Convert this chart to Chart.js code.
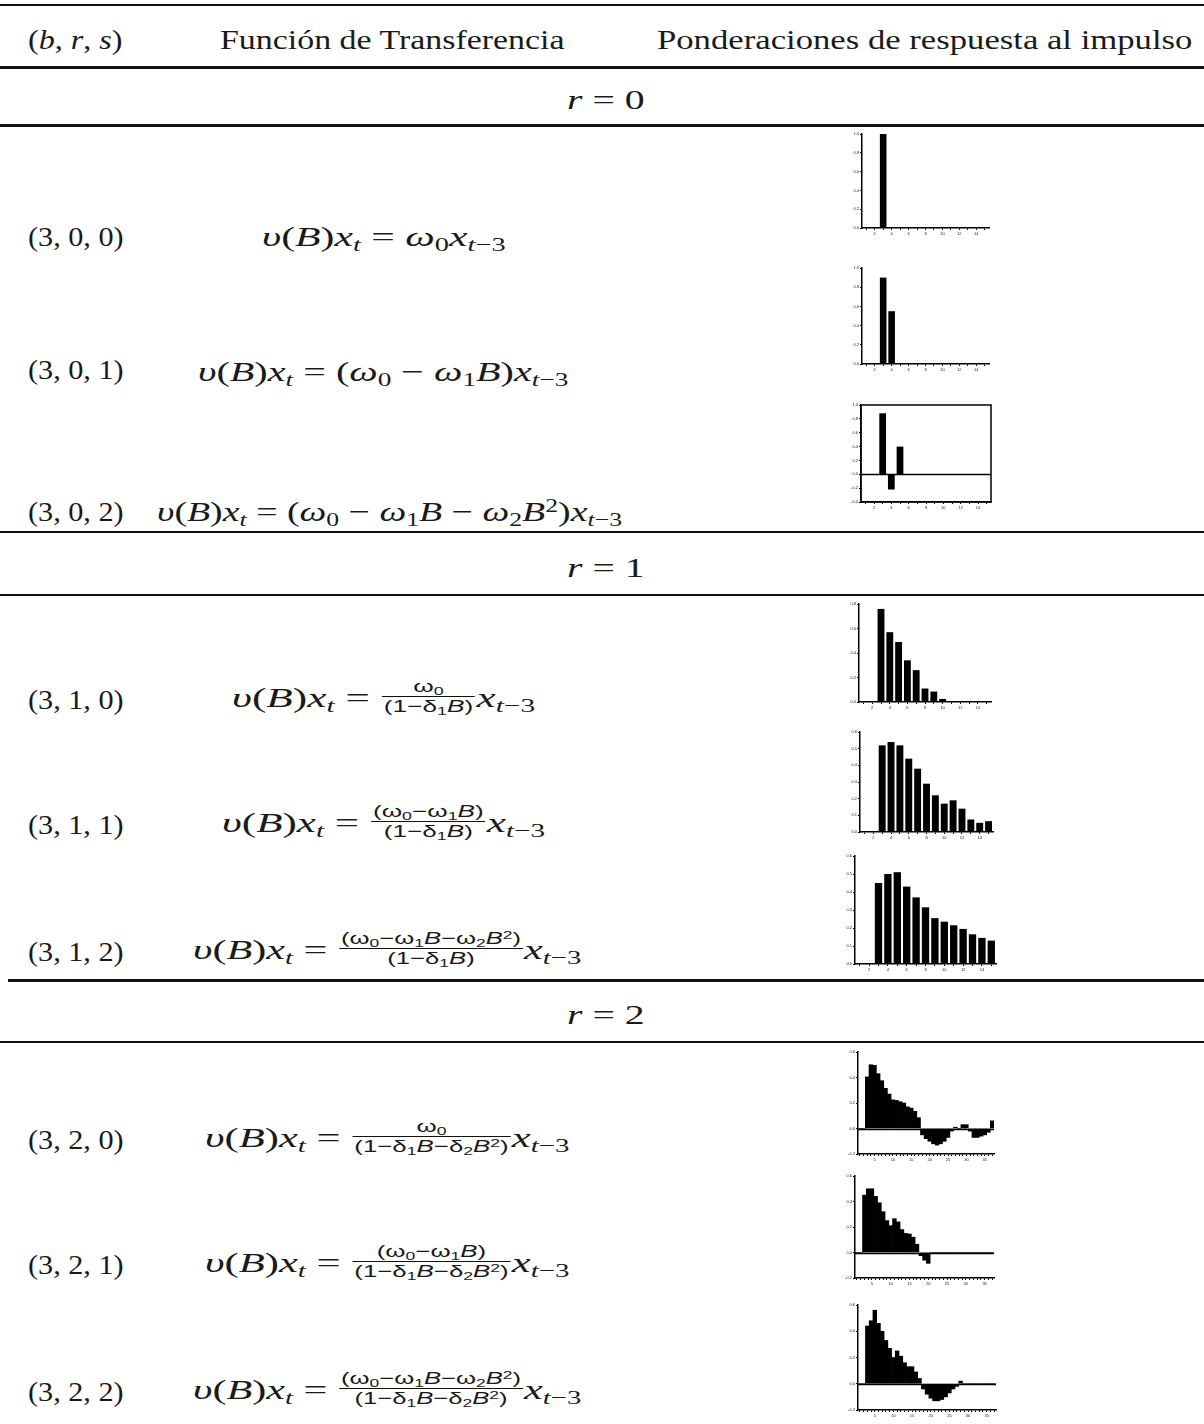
<!DOCTYPE html>
<html><head><meta charset="utf-8">
<script src="https://cdn.jsdelivr.net/npm/chart.js@4.4.1/dist/chart.umd.min.js"></script>
<style>
html,body{margin:0;padding:0;background:#fff;}
#page{position:relative;width:1204px;height:1424px;overflow:hidden;background:#fff;}
.t{position:absolute;white-space:nowrap;font-family:"Liberation Serif",serif;font-size:28px;color:#1a1a1a;transform-origin:0 50%;line-height:1;}
.t i{font-style:italic;}
.t sub{font-size:0.68em;vertical-align:-0.25em;line-height:0;}
.t sup{font-size:0.68em;vertical-align:0.45em;line-height:0;}
.fr{display:inline-block;vertical-align:middle;text-align:center;font-family:"Liberation Sans",sans-serif;font-size:17px;line-height:1.05;margin:0 1px;position:relative;top:-3px;}
.fr i{font-style:italic;}
.nu{display:block;border-bottom:1.6px solid #111;padding:0 1px 1px 1px;}
.de{display:block;padding:1px 1px 0 1px;}
.rule{position:absolute;background:#111;}
canvas.c{position:absolute;}
</style></head><body>
<div id="page">
  <div class="rule" style="left:0;top:4px;width:1204px;height:2px"></div>
  <div class="rule" style="left:0;top:66px;width:1204px;height:3px"></div>
  <div class="rule" style="left:0;top:124px;width:1204px;height:3px"></div>
  <div class="rule" style="left:0;top:531px;width:1204px;height:2px"></div>
  <div class="rule" style="left:0;top:594px;width:1204px;height:2px"></div>
  <div class="rule" style="left:8px;top:979px;width:1196px;height:3px"></div>
  <div class="rule" style="left:0;top:1041px;width:1204px;height:2px"></div>

  <div class="t" data-x="28" data-y="40" data-w="94">(<i>b</i>, <i>r</i>, <i>s</i>)</div>
  <div class="t" data-x="220" data-y="40" data-w="345">Función de Transferencia</div>
  <div class="t" data-x="657" data-y="40" data-w="535">Ponderaciones de respuesta al impulso</div>

  <div class="t" data-x="567" data-y="100" data-w="78"><i>r</i> = 0</div>
  <div class="t" data-x="567" data-y="568" data-w="78"><i>r</i> = 1</div>
  <div class="t" data-x="567" data-y="1015" data-w="78"><i>r</i> = 2</div>

  <div class="t" data-x="28" data-y="237" data-w="96">(3, 0, 0)</div>
  <div class="t" data-x="28" data-y="370" data-w="96">(3, 0, 1)</div>
  <div class="t" data-x="28" data-y="512" data-w="96">(3, 0, 2)</div>
  <div class="t" data-x="28" data-y="700" data-w="96">(3, 1, 0)</div>
  <div class="t" data-x="28" data-y="825" data-w="96">(3, 1, 1)</div>
  <div class="t" data-x="28" data-y="952" data-w="96">(3, 1, 2)</div>
  <div class="t" data-x="28" data-y="1140" data-w="96">(3, 2, 0)</div>
  <div class="t" data-x="28" data-y="1265" data-w="96">(3, 2, 1)</div>
  <div class="t" data-x="28" data-y="1392" data-w="96">(3, 2, 2)</div>

  <div class="t" data-x="262" data-y="237" data-w="243"><i>υ</i>(<i>B</i>)<i>x</i><sub><i>t</i></sub> = <i>ω</i><sub>0</sub><i>x</i><sub><i>t</i>−3</sub></div>
  <div class="t" data-x="198" data-y="372" data-w="370"><i>υ</i>(<i>B</i>)<i>x</i><sub><i>t</i></sub> = (<i>ω</i><sub>0</sub> − <i>ω</i><sub>1</sub><i>B</i>)<i>x</i><sub><i>t</i>−3</sub></div>
  <div class="t" data-x="157" data-y="512" data-w="465"><i>υ</i>(<i>B</i>)<i>x</i><sub><i>t</i></sub> = (<i>ω</i><sub>0</sub> − <i>ω</i><sub>1</sub><i>B</i> − <i>ω</i><sub>2</sub><i>B</i><sup>2</sup>)<i>x</i><sub><i>t</i>−3</sub></div>

  <div class="t" data-x="232" data-y="700" data-w="303"><i>υ</i>(<i>B</i>)<i>x</i><sub><i>t</i></sub> = <span class="fr"><span class="nu">ω<sub>0</sub></span><span class="de">(1−δ<sub>1</sub><i>B</i>)</span></span><i>x</i><sub><i>t</i>−3</sub></div>
  <div class="t" data-x="222" data-y="825" data-w="323"><i>υ</i>(<i>B</i>)<i>x</i><sub><i>t</i></sub> = <span class="fr"><span class="nu">(ω<sub>0</sub>−ω<sub>1</sub><i>B</i>)</span><span class="de">(1−δ<sub>1</sub><i>B</i>)</span></span><i>x</i><sub><i>t</i>−3</sub></div>
  <div class="t" data-x="193" data-y="952" data-w="389"><i>υ</i>(<i>B</i>)<i>x</i><sub><i>t</i></sub> = <span class="fr"><span class="nu">(ω<sub>0</sub>−ω<sub>1</sub><i>B</i>−ω<sub>2</sub><i>B</i><sup>2</sup>)</span><span class="de">(1−δ<sub>1</sub><i>B</i>)</span></span><i>x</i><sub><i>t</i>−3</sub></div>

  <div class="t" data-x="205" data-y="1140" data-w="365"><i>υ</i>(<i>B</i>)<i>x</i><sub><i>t</i></sub> = <span class="fr"><span class="nu">ω<sub>0</sub></span><span class="de">(1−δ<sub>1</sub><i>B</i>−δ<sub>2</sub><i>B</i><sup>2</sup>)</span></span><i>x</i><sub><i>t</i>−3</sub></div>
  <div class="t" data-x="205" data-y="1265" data-w="365"><i>υ</i>(<i>B</i>)<i>x</i><sub><i>t</i></sub> = <span class="fr"><span class="nu">(ω<sub>0</sub>−ω<sub>1</sub><i>B</i>)</span><span class="de">(1−δ<sub>1</sub><i>B</i>−δ<sub>2</sub><i>B</i><sup>2</sup>)</span></span><i>x</i><sub><i>t</i>−3</sub></div>
  <div class="t" data-x="193" data-y="1392" data-w="389"><i>υ</i>(<i>B</i>)<i>x</i><sub><i>t</i></sub> = <span class="fr"><span class="nu">(ω<sub>0</sub>−ω<sub>1</sub><i>B</i>−ω<sub>2</sub><i>B</i><sup>2</sup>)</span><span class="de">(1−δ<sub>1</sub><i>B</i>−δ<sub>2</sub><i>B</i><sup>2</sup>)</span></span><i>x</i><sub><i>t</i>−3</sub></div>
</div>
<script>
// ---- data ----
const lagsShort = ['1','2','3','4','5','6','7','8','9','10','11','12','13','14','15'];
const lagsLong = ['1','2','3','4','5','6','7','8','9','10','11','12','13','14','15','16','17','18','19','20',
  '21','22','23','24','25','26','27','28','29','30','31','32','33','34','35','36','37'];
const shortTickLabels = ['2','4','6','8','10','12','14'];
const longTickLabels = ['5','10','15','20','25','30','35'];

const w300 = [0,0,1.00,0,0,0,0,0,0,0,0,0,0,0,0];
const w301 = [0,0,0.90,0.55,0,0,0,0,0,0,0,0,0,0,0];
const w302 = [0,0,0.88,-0.22,0.40,0,0,0,0,0,0,0,0,0,0];
const w310 = [0,0,0.76,0.57,0.49,0.34,0.26,0.11,0.085,0.025,0,0,0,0,0];
const w311 = [0,0,0.52,0.54,0.52,0.44,0.38,0.29,0.22,0.17,0.19,0.14,0.075,0.055,0.065];
const w312 = [0,0,0.45,0.50,0.51,0.43,0.37,0.315,0.255,0.235,0.215,0.195,0.165,0.145,0.13];
const w320 = [0,0,0.405,0.50,0.495,0.43,0.375,0.315,0.27,0.225,0.22,0.21,0.20,0.17,0.16,0.135,0.085,
  -0.05,-0.08,-0.10,-0.12,-0.13,-0.12,-0.10,-0.07,-0.02,0.01,0.0,0.03,0.03,-0.02,-0.07,-0.07,-0.06,-0.05,-0.03,0.06];
const w321 = [0,0,0.45,0.50,0.50,0.44,0.39,0.32,0.25,0.21,0.265,0.24,0.18,0.15,0.145,0.12,0.065,
  -0.025,-0.06,-0.085,0,0,0,0,0,0,0,0,0,0,0,0,0,0,0,0,0];
const w322 = [0,0,0.44,0.48,0.56,0.46,0.40,0.33,0.27,0.20,0.25,0.21,0.16,0.13,0.13,0.09,0.04,
  -0.04,-0.08,-0.11,-0.13,-0.13,-0.12,-0.10,-0.07,-0.04,-0.02,0.02,0,0,0,0,0,0,0,0,0];

// ---- text placement ----
document.querySelectorAll('.t').forEach(el => {
  const x = +el.dataset.x, y = +el.dataset.y, w = +el.dataset.w;
  el.style.left = x + 'px';
  const h = el.offsetHeight;
  el.style.top = (y - h / 2) + 'px';
  const cw = el.offsetWidth;
  if (w && cw) el.style.transform = 'scaleX(' + (w / cw).toFixed(4) + ')';
});

// ---- charts ----
const YW = 14, XH = 10, PT = 5, PR = 4;
const boxPlugin = {
  id: 'boxZero',
  afterDatasetsDraw(chart, args, opts) {
    const {ctx, chartArea: a, scales: {y}} = chart;
    ctx.save();
    ctx.strokeStyle = '#000';
    if (opts.zero) {
      const yz = Math.round(y.getPixelForValue(0)) + 0.5;
      ctx.lineWidth = 1.5;
      ctx.beginPath(); ctx.moveTo(a.left, yz); ctx.lineTo(a.right, yz); ctx.stroke();
    }
    if (opts.box) {
      ctx.lineWidth = 1.5;
      ctx.strokeRect(a.left, a.top, a.right - a.left, a.bottom - a.top);
    }
    ctx.restore();
  }
};

function mk(rect, labels, data, ymin, ymax, step, tickSet, contiguous, box, zero) {
  const [L, T, R, B] = rect;
  const cv = document.createElement('canvas');
  cv.className = 'c';
  const cl = L - YW, ct = T - PT;
  const w = R - L + YW + PR, h = B - T + PT + XH;
  cv.style.left = cl + 'px'; cv.style.top = ct + 'px';
  cv.style.width = w + 'px'; cv.style.height = h + 'px';
  cv.width = w; cv.height = h;
  document.getElementById('page').appendChild(cv);
  new Chart(cv, {
    type: 'bar',
    data: { labels, datasets: [{ data, backgroundColor: '#000', borderWidth: 0,
      barPercentage: contiguous ? 1.0 : 0.78, categoryPercentage: 1.0 }] },
    options: {
      responsive: false, animation: false, devicePixelRatio: 1,
      layout: { padding: { top: PT, right: PR, left: 0, bottom: 0 } },
      plugins: { legend: { display: false }, tooltip: { enabled: false },
        boxZero: { box, zero } },
      scales: {
        x: {
          grid: { display: true, drawOnChartArea: false, color: '#000', tickLength: 2, offset: false },
          border: { display: true, color: '#000', width: 1.5 },
          ticks: { autoSkip: false, maxRotation: 0, padding: 1, color: '#222',
            font: { size: 4, family: 'Liberation Sans' },
            callback: function(v) { const l = this.getLabelForValue(v); return tickSet.includes(l) ? l : ''; } },
          afterFit: s => { s.height = XH; s.paddingLeft = 0; s.paddingRight = 0; }
        },
        y: {
          min: ymin, max: ymax,
          grid: { display: true, drawOnChartArea: false, color: '#000', tickLength: 2 },
          border: { display: true, color: '#000', width: 1.5 },
          ticks: { stepSize: step, padding: 1, color: '#222',
            font: { size: 4, family: 'Liberation Sans' },
            callback: v => (Math.round(v * 10) / 10).toFixed(1) },
          afterFit: s => { s.width = YW; s.paddingTop = 0; s.paddingBottom = 0; }
        }
      }
    },
    plugins: [boxPlugin]
  });
}

mk([862,134,989,228], lagsShort, w300, 0, 1.0, 0.2, shortTickLabels, false, false, false);
mk([862,268,989,364], lagsShort, w301, 0, 1.0, 0.2, shortTickLabels, false, false, false);
mk([861,405,991,502], lagsShort, w302, -0.4, 1.0, 0.2, shortTickLabels, false, true, true);
mk([859,604,991,702], lagsShort, w310, 0, 0.8, 0.2, shortTickLabels, false, false, false);
mk([860,732,993,832], lagsShort, w311, 0, 0.6, 0.1, shortTickLabels, false, false, false);
mk([855,856,996,964], lagsShort, w312, 0, 0.6, 0.1, shortTickLabels, false, false, false);
mk([858,1052,994,1154], lagsLong, w320, -0.2, 0.6, 0.2, longTickLabels, true, false, true);
mk([855,1176,994,1278], lagsLong, w321, -0.2, 0.6, 0.2, longTickLabels, true, false, true);
mk([858,1305,996,1410], lagsLong, w322, -0.2, 0.6, 0.2, longTickLabels, true, false, true);
</script>
</body></html>
